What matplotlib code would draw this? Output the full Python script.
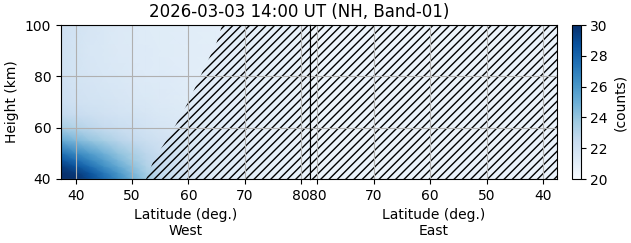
import matplotlib
matplotlib.use("Agg")
import matplotlib.pyplot as plt
import numpy as np

# West side: node grid (latitude, height) and counts
west_lat = [37.4, 40, 42.5, 45, 47.5, 50, 52.5, 55, 60, 65, 70, 75, 81.6]
west_height = [40, 42.5, 45, 47.5, 50, 55, 60, 65, 70, 80, 90, 100]
west_counts = [
    [30.5, 30.0, 29.0, 27.8, 26.5, 25.0, 23.8, 22.8, 21.8, 21.3, 21.0, 20.8, 20.7],
    [30.5, 29.5, 28.5, 27.2, 26.0, 24.6, 23.5, 22.6, 21.7, 21.2, 21.0, 20.8, 20.7],
    [29.5, 28.6, 27.5, 26.3, 25.2, 24.2, 23.2, 22.5, 21.7, 21.2, 21.0, 20.8, 20.7],
    [28.5, 27.6, 26.6, 25.6, 24.6, 23.7, 23.0, 22.4, 21.6, 21.2, 21.0, 20.8, 20.7],
    [27.5, 26.6, 25.8, 24.9, 24.1, 23.4, 22.8, 22.3, 21.6, 21.2, 21.0, 20.8, 20.7],
    [25.2, 24.6, 24.0, 23.5, 23.0, 22.6, 22.3, 22.0, 21.5, 21.2, 20.9, 20.8, 20.7],
    [23.5, 23.1, 22.8, 22.5, 22.3, 22.1, 21.9, 21.7, 21.4, 21.1, 20.9, 20.8, 20.7],
    [22.6, 22.4, 22.2, 22.0, 21.9, 21.8, 21.7, 21.5, 21.3, 21.0, 20.9, 20.8, 20.7],
    [22.2, 22.0, 21.9, 21.8, 21.7, 21.6, 21.5, 21.4, 21.2, 21.0, 20.9, 20.8, 20.7],
    [22.0, 21.8, 21.7, 21.6, 21.5, 21.4, 21.3, 21.3, 21.1, 21.0, 20.9, 20.8, 20.7],
    [22.0, 21.8, 21.6, 21.5, 21.4, 21.3, 21.3, 21.2, 21.1, 21.0, 20.9, 20.8, 20.7],
    [22.1, 21.9, 21.7, 21.5, 21.4, 21.3, 21.2, 21.2, 21.1, 21.0, 20.9, 20.8, 20.7],
]

# East side: almost flat, all in the hatched (no-signal) zone
east_lat = [37.5, 60, 81.3]
east_height = [40, 70, 100]
east_counts = [
    [20.7, 20.6, 20.6],
    [20.6, 20.6, 20.5],
    [20.6, 20.5, 20.5],
]

# edge of the hatched region on the west side
edge_height = [40, 48, 58, 70, 84, 93, 100]
edge_lat = [52.5, 54, 57, 60, 63, 65, 66]

lat_ticks = [40, 50, 60, 70, 80]
height_ticks = [40, 60, 80, 100]
title = "2026-03-03 14:00 UT (NH, Band-01)"

fig = plt.figure(figsize=(6.31, 2.43), dpi=100)
ax_w = fig.add_axes([61 / 631, 64 / 243, 249 / 631, 154 / 243])
ax_e = fig.add_axes([310 / 631, 64 / 243, 247 / 631, 154 / 243])
cax = fig.add_axes([572 / 631, 64 / 243, 8.5 / 631, 154 / 243])

mesh = ax_w.pcolormesh(west_lat, west_height, np.array(west_counts),
                       cmap="Blues", vmin=20, vmax=30, shading="gouraud")
ax_w.fill_betweenx(edge_height, edge_lat, 90, facecolor="none",
                   edgecolor="k", hatch="////", linewidth=0)

ax_e.pcolormesh(east_lat, east_height, np.array(east_counts),
                cmap="Blues", vmin=20, vmax=30, shading="gouraud")
ax_e.fill_betweenx([40, 100], 30, 90, facecolor="none",
                   edgecolor="k", hatch="////", linewidth=0)

ax_w.set_xlim(37.4, 81.6)
ax_e.set_xlim(81.3, 37.5)
for ax, side in [(ax_w, "West"), (ax_e, "East")]:
    ax.set_ylim(40, 100)
    ax.set_xticks(lat_ticks)
    ax.set_yticks(height_ticks)
    ax.set_xlabel("Latitude (deg.)\n" + side)
    ax.grid(True)

ax_w.set_ylabel("Height (km)")
ax_e.tick_params(left=False, labelleft=False)

cb = fig.colorbar(mesh, cax=cax)
cb.set_ticks([20, 22, 24, 26, 28, 30])
cb.set_label("(counts)")

fig.text(299 / 631, 1 - 12 / 243, title, ha="center", va="center", fontsize=12)

fig.savefig("out.png", dpi=100)
